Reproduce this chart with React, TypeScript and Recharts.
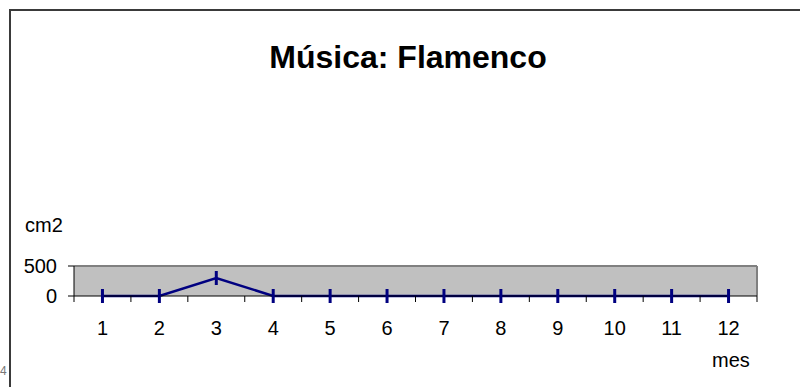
import React from 'react';
import { LineChart, Line, XAxis, YAxis, CartesianGrid, ReferenceLine } from 'recharts';

const months = [1, 2, 3, 4, 5, 6, 7, 8, 9, 10, 11, 12];
const values = [0, 0, 300, 0, 0, 0, 0, 0, 0, 0, 0, 0];
const yTicks = [0, 500];
const boundaryTicks = [0.5, 1.5, 2.5, 3.5, 4.5, 5.5, 6.5, 7.5, 8.5, 9.5, 10.5, 11.5, 12.5];
const title = 'Música: Flamenco';
const yLabel = 'cm2';
const xLabel = 'mes';
const pageNumber = '4';

const data = months.map((m, i) => ({ mes: m, v: values[i] }));

const FONT = "Arial, 'Liberation Sans', sans-serif";

const DashDot = (props: any) => {
  const { cx, cy } = props;
  if (cx == null || cy == null) return null;
  return <line x1={cx} x2={cx} y1={cy - 7} y2={cy + 7} stroke="#000080" strokeWidth={3} />;
};

export default function App() {
  return (
    <div style={{ position: 'absolute', left: 0, top: 0, width: 800, height: 387, background: '#fff', overflow: 'hidden', fontFamily: FONT }}>
      <div style={{ position: 'absolute', left: 9, top: 9, width: 900, height: 500, borderTop: '2px solid #3a3a3a', borderLeft: '2px solid #3a3a3a' }} />
      <div style={{ position: 'absolute', left: 0, top: 361, fontSize: 12, lineHeight: '20px', color: '#777' }}>{pageNumber}</div>
      <div style={{ position: 'absolute', left: 408, top: 41, transform: 'translateX(-50%)', fontSize: 32, lineHeight: '32px', fontWeight: 'bold', whiteSpace: 'nowrap', color: '#000' }}>{title}</div>
      <div style={{ position: 'absolute', left: 25, top: 215, fontSize: 20, lineHeight: '20px', color: '#000' }}>{yLabel}</div>
      <div style={{ position: 'absolute', left: 712, top: 350, fontSize: 20, lineHeight: '20px', color: '#000' }}>{xLabel}</div>
      <div style={{ position: 'absolute', left: 0, top: 0 }}>
        <LineChart width={800} height={387} data={data} margin={{ top: 266, right: 43, bottom: 50, left: 14 }}>
          <CartesianGrid xAxisId={0} yAxisId={0} fill="#c0c0c0" horizontal={false} vertical={false} />
          <ReferenceLine xAxisId={0} yAxisId={0} y={500} stroke="#808080" strokeWidth={2} />
          <ReferenceLine xAxisId={0} yAxisId={0} x={12.5} stroke="#808080" strokeWidth={2} />
          <XAxis
            xAxisId={0}
            dataKey="mes"
            type="number"
            domain={[0.5, 12.5]}
            ticks={boundaryTicks}
            height={1}
            tickSize={6}
            tickFormatter={() => ''}
            axisLine={{ stroke: '#000', strokeWidth: 1 }}
            tickLine={{ stroke: '#000', strokeWidth: 1 }}
            interval={0}
          />
          <XAxis
            xAxisId={1}
            dataKey="mes"
            type="number"
            domain={[0.5, 12.5]}
            ticks={months}
            height={40}
            tickSize={6}
            tickMargin={18}
            tickLine={false}
            axisLine={false}
            interval={0}
            tick={{ fill: '#000', fontSize: 20, fontFamily: FONT }}
          />
          <YAxis
            yAxisId={0}
            type="number"
            domain={[0, 500]}
            ticks={yTicks}
            width={60}
            tickSize={6}
            tickMargin={11}
            axisLine={{ stroke: '#000', strokeWidth: 1 }}
            tickLine={{ stroke: '#000', strokeWidth: 1 }}
            tick={{ fill: '#000', fontSize: 20, fontFamily: FONT }}
          />
          <Line
            xAxisId={1}
            yAxisId={0}
            dataKey="v"
            type="linear"
            stroke="#000080"
            strokeWidth={2.5}
            dot={<DashDot />}
            activeDot={false}
            isAnimationActive={false}
          />
        </LineChart>
      </div>
    </div>
  );
}
